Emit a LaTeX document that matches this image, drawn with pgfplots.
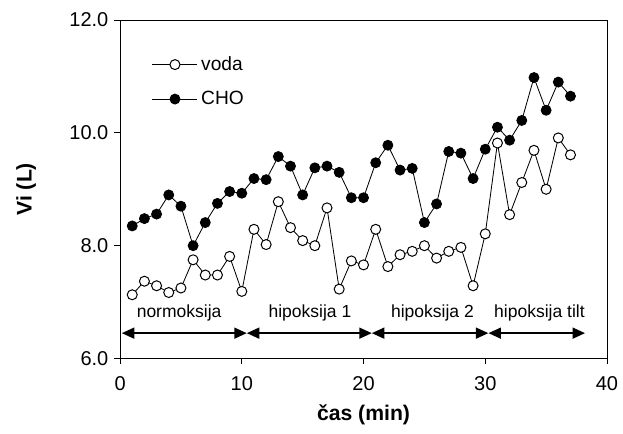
\documentclass[border=0pt]{standalone}
\usepackage{fontspec}
\setmainfont{Liberation Sans}
\usepackage{pgfplots}
\pgfplotsset{compat=1.18}
\usetikzlibrary{arrows.meta}

% Vi (L) per minute
\pgfplotstableread{
t voda cho
1 7.13 8.35
2 7.37 8.48
3 7.29 8.56
4 7.17 8.90
5 7.25 8.70
6 7.75 8.00
7 7.48 8.41
8 7.48 8.75
9 7.81 8.96
10 7.19 8.93
11 8.29 9.19
12 8.02 9.17
13 8.78 9.58
14 8.32 9.41
15 8.09 8.90
16 8.00 9.38
17 8.67 9.41
18 7.23 9.30
19 7.73 8.85
20 7.66 8.85
21 8.29 9.47
22 7.63 9.78
23 7.84 9.34
24 7.90 9.37
25 8.00 8.41
26 7.78 8.74
27 7.90 9.67
28 7.97 9.64
29 7.29 9.19
30 8.21 9.71
31 9.82 10.10
32 8.55 9.87
33 9.12 10.22
34 9.69 10.98
35 9.00 10.40
36 9.91 10.90
37 9.61 10.65
}\vidata

\begin{document}
\begin{tikzpicture}
\begin{axis}[
    scale only axis,
    width=292pt, height=203pt,
    xmin=0, xmax=40, ymin=6, ymax=12,
    xtick={0,10,20,30,40},
    ytick={6,8,10,12},
    xtick pos=bottom, ytick pos=left,
    tick align=outside,
    major tick length=3.5pt,
    tick style={black, line width=0.6pt},
    axis line style={line width=0.6pt},
    yticklabel style={/pgf/number format/.cd, fixed, fixed zerofill, precision=1},
    xticklabel style={yshift=-4pt},
    /pgf/number format/assume math mode=true,
    ticklabel style={font=\fontsize{12}{13}\selectfont},
    xlabel={\textbf{čas (min)}},
    ylabel={\textbf{Vi (L)}},
    label style={font=\fontsize{12.7}{14}\selectfont},
    xlabel style={at={(axis description cs:0.5,-0.165)}, anchor=center},
    ylabel style={at={(axis description cs:-0.193,0.5)}, anchor=center},
    legend style={at={(axis cs:2.6,11.42)}, anchor=north west, draw=none, fill=none,
        inner sep=0pt, font=\fontsize{11.5}{13}\selectfont, row sep=7pt,
        /tikz/every even column/.append style={column sep=3pt}},
    legend cell align=left,
    legend image code/.code={\draw[#1, mark repeat=2, mark phase=2]
        plot coordinates {(0pt,0pt) (13.5pt,0pt) (27pt,0pt)};},
]
\addplot[black, line width=0.5pt, mark=*, mark size=3pt,
    mark options={fill=white, line width=0.6pt}] table[x=t, y=voda] {\vidata};
\addlegendentry{voda}
\addplot[black, line width=0.5pt, mark=*, mark size=3pt,
    mark options={fill=black}] table[x=t, y=cho] {\vidata};
\addlegendentry{CHO}

% phase arrows
\tikzset{phase/.style={line width=1.2pt,
    {Triangle[length=7.5pt,width=6.5pt]}-{Triangle[length=7.5pt,width=6.5pt]}}}
\draw[phase] (axis cs:0.14,6.45) -- (axis cs:10.41,6.45);
\draw[phase] (axis cs:10.41,6.45) -- (axis cs:20.68,6.45);
\draw[phase] (axis cs:20.68,6.45) -- (axis cs:30.26,6.45);
\draw[phase] (axis cs:30.26,6.45) -- (axis cs:38.2,6.45);

\node[font=\fontsize{10.5}{12}\selectfont] at (axis cs:4.85,6.80) {normoksija};
\node[font=\fontsize{10.5}{12}\selectfont] at (axis cs:15.6,6.80) {hipoksija 1};
\node[font=\fontsize{10.5}{12}\selectfont] at (axis cs:25.66,6.80) {hipoksija 2};
\node[font=\fontsize{10.5}{12}\selectfont] at (axis cs:34.45,6.80) {hipoksija tilt};
\end{axis}
\pgfresetboundingbox
\path (current axis.south west) ++(-72pt,-45pt) coordinate (bbA);
\path (current axis.north east) ++(9.6pt,12pt) coordinate (bbB);
\useasboundingbox (bbA) rectangle (bbB);
\end{tikzpicture}
\end{document}
